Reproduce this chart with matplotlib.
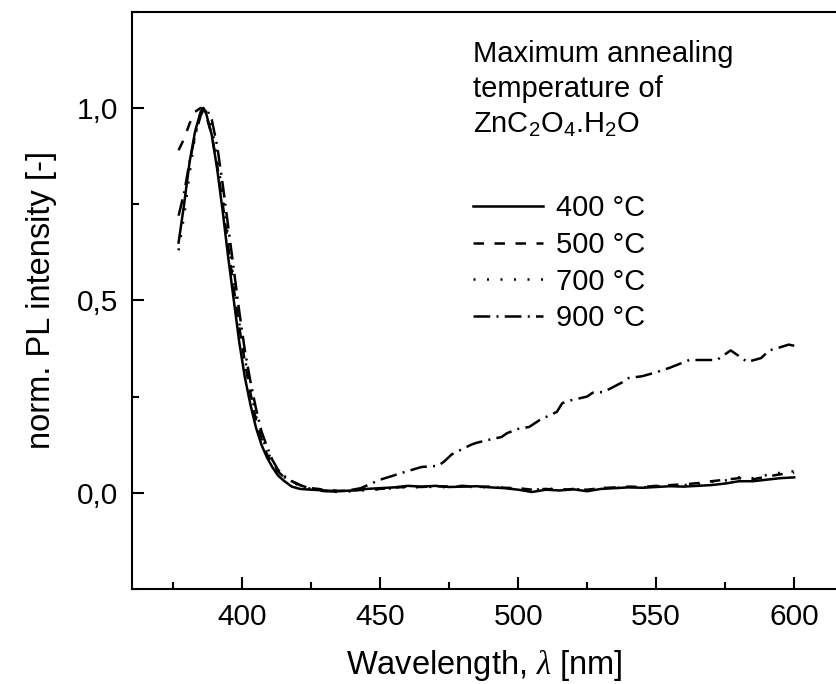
import matplotlib
matplotlib.use("Agg")
import matplotlib.pyplot as plt
from matplotlib.ticker import MultipleLocator, FuncFormatter
from matplotlib.lines import Line2D

plt.rcParams["font.family"] = ["Liberation Sans", "DejaVu Sans"]
plt.rcParams["mathtext.fontset"] = "custom"
plt.rcParams["mathtext.rm"] = "Liberation Sans"
plt.rcParams["mathtext.it"] = "Liberation Serif:italic"

# peak region, shared wavelength grid (nm)
wl_peak = [377, 379, 381, 383, 385, 386, 387, 389, 391, 393, 395, 397, 399,
           401, 403, 405, 407, 409, 411, 413, 415, 418, 421]
pl_400_peak = [0.65, 0.75, 0.86, 0.94, 0.99, 1.00, 0.985, 0.93, 0.84, 0.73, 0.61, 0.50, 0.39,
               0.30, 0.23, 0.17, 0.125, 0.092, 0.066, 0.045, 0.032, 0.016, 0.010]
pl_500_peak = [0.89, 0.92, 0.96, 0.99, 1.00, 0.995, 0.98, 0.93, 0.85, 0.75, 0.64, 0.53, 0.43,
               0.34, 0.26, 0.19, 0.14, 0.10, 0.075, 0.055, 0.042, 0.030, 0.020]
pl_700_peak = [0.63, 0.72, 0.83, 0.93, 0.99, 1.00, 0.99, 0.95, 0.87, 0.77, 0.66, 0.55, 0.44,
               0.35, 0.27, 0.20, 0.15, 0.11, 0.08, 0.058, 0.042, 0.028, 0.018]
pl_900_peak = [0.72, 0.78, 0.86, 0.93, 0.98, 0.995, 1.00, 0.97, 0.90, 0.80, 0.69, 0.58, 0.47,
               0.37, 0.29, 0.22, 0.16, 0.12, 0.085, 0.06, 0.045, 0.03, 0.02]

# flat region for 400/500/700 C
wl_base = [425, 430, 435, 440, 445, 450, 455, 460, 465, 470, 475, 480, 485, 490, 495,
           500, 505, 510, 515, 520, 525, 530, 535, 540, 545, 550, 555, 560, 565, 570,
           575, 580, 585, 590, 595, 600]
pl_400_base = [0.008, 0.006, 0.004, 0.006, 0.010, 0.012, 0.014, 0.018, 0.016, 0.018, 0.015,
               0.016, 0.017, 0.014, 0.012, 0.008, 0.002, 0.008, 0.006, 0.009, 0.004, 0.010,
               0.012, 0.014, 0.013, 0.015, 0.017, 0.016, 0.018, 0.020, 0.024, 0.030, 0.030,
               0.034, 0.038, 0.040]
pl_500_base = [0.012, 0.008, 0.005, 0.006, 0.008, 0.010, 0.013, 0.016, 0.015, 0.017, 0.016,
               0.018, 0.015, 0.016, 0.013, 0.012, 0.008, 0.010, 0.007, 0.010, 0.008, 0.012,
               0.014, 0.016, 0.015, 0.018, 0.020, 0.022, 0.025, 0.030, 0.034, 0.038, 0.035,
               0.042, 0.048, 0.052]
pl_700_base = [0.010, 0.004, 0.002, 0.004, 0.007, 0.009, 0.012, 0.015, 0.014, 0.016, 0.014,
               0.017, 0.014, 0.015, 0.012, 0.010, 0.006, 0.012, 0.008, 0.011, 0.006, 0.013,
               0.012, 0.015, 0.014, 0.017, 0.019, 0.020, 0.022, 0.028, 0.032, 0.040, 0.038,
               0.046, 0.052, 0.056]

# 900 C rises after 440 nm
wl_900_base = [425, 430, 435, 440, 443, 450, 455, 458, 465, 471, 473, 476, 483, 485, 489,
               494, 496, 500, 504, 508, 514, 516, 519, 525, 527, 531, 538, 540, 545, 550,
               555, 562, 567, 572, 577, 580, 583, 588, 591, 594, 598, 600]
pl_900_base = [0.010, 0.004, 0.003, 0.008, 0.012, 0.034, 0.045, 0.052, 0.067, 0.070, 0.080,
               0.100, 0.125, 0.130, 0.137, 0.145, 0.155, 0.166, 0.171, 0.190, 0.210, 0.233,
               0.240, 0.250, 0.260, 0.262, 0.288, 0.298, 0.303, 0.313, 0.325, 0.345, 0.345,
               0.345, 0.370, 0.355, 0.340, 0.350, 0.370, 0.376, 0.385, 0.382]

labels = ["400 °C", "500 °C", "700 °C", "900 °C"]
styles = ["-", (0, (4.2, 4.2)), (0, (0.8, 4.6)), (0, (6.7, 2.5, 0.8, 2.5))]

fig = plt.figure(figsize=(8.37, 6.84), dpi=100)
ax = fig.add_axes([0.1573, 0.1389, 0.8427, 0.844])

series = [
    (wl_peak + wl_base, pl_400_peak + pl_400_base),
    (wl_peak + wl_base, pl_500_peak + pl_500_base),
    (wl_peak + wl_base, pl_700_peak + pl_700_base),
    (wl_peak + wl_900_base, pl_900_peak + pl_900_base),
]
for (x, y), ls in zip(series, styles):
    ax.plot(x, y, color="black", lw=1.8, linestyle=ls)

ax.set_xlim(360, 615.5)
ax.set_ylim(-0.25, 1.25)
ax.xaxis.set_major_locator(MultipleLocator(50))
ax.xaxis.set_minor_locator(MultipleLocator(25))
ax.yaxis.set_major_locator(MultipleLocator(0.5))
ax.yaxis.set_minor_locator(MultipleLocator(0.25))
ax.yaxis.set_major_formatter(FuncFormatter(lambda v, p: f"{v:.1f}".replace(".", ",")))
ax.tick_params(which="both", direction="in", width=1.5, labelsize=21.5, pad=10)
ax.tick_params(which="major", length=8.5)
ax.tick_params(which="minor", length=4.8)
ax.spines["right"].set_visible(False)
for s in ["left", "bottom", "top"]:
    ax.spines[s].set_linewidth(1.5)

ax.set_xlabel(r"Wavelength, $\lambda$ [nm]", fontsize=23.5, labelpad=12)
ax.set_ylabel("norm. PL intensity [-]", fontsize=23.5, labelpad=14)

W, H = 837, 684
for txt, yb in [("Maximum annealing", 62), ("temperature of", 97),
                (r"ZnC$_2$O$_4$.H$_2$O", 133)]:
    fig.text(473 / W, 1 - yb / H, txt, fontsize=21, va="baseline", ha="left")

handles = [Line2D([], [], color="black", lw=1.8, linestyle=ls) for ls in styles]
ax.legend(handles, labels, loc="upper left", bbox_to_anchor=(473 / W, 1 - 194 / H),
          bbox_transform=fig.transFigure, frameon=False, fontsize=21,
          handlelength=2.4, handletextpad=0.45, labelspacing=0.30,
          borderpad=0, borderaxespad=0)

fig.savefig("out.png", dpi=100)
